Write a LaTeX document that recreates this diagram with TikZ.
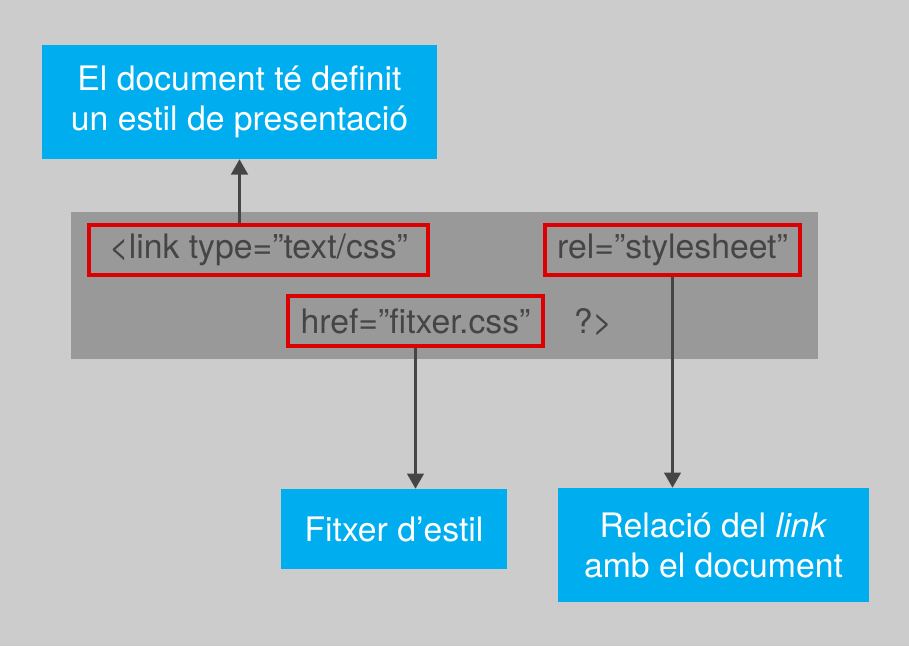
\documentclass[tikz,border=0pt]{standalone}
\usepackage{fontspec}
\setmainfont{TeX Gyre Heros}
\usetikzlibrary{arrows.meta,positioning,calc}
\definecolor{bgcol}{HTML}{CCCCCC}
\definecolor{barcol}{HTML}{999999}
\definecolor{skyblue}{HTML}{00AEEF}
\definecolor{markred}{HTML}{DD0000}
\definecolor{codegray}{HTML}{454545}
\begin{document}
\begin{tikzpicture}[x=0.025cm, y=-0.025cm,
  infobox/.style={fill=skyblue, text=white, align=center, inner sep=0pt,
    font=\fontsize{24}{28.5}\selectfont},
  codebox/.style={draw=markred, line width=2.8pt, text=codegray, inner sep=0pt,
    minimum height=1.25cm, font=\fontsize{24}{28}\selectfont},
  arrow/.style={-{Triangle[length=0.38cm, width=0.42cm]}, line width=1.5pt, draw=codegray}
]
\fill[bgcol] (0,0) rectangle (909,646);
\useasboundingbox (0,0) rectangle (909,646);
\node[fill=barcol, minimum width=18.675cm, minimum height=3.675cm, inner sep=0pt] (bar) at (444.5,285.5) {};
\node[infobox, minimum width=9.875cm, minimum height=2.85cm] (style) at (239.5,102)
  {El document té definit\\un estil de presentació};
\node[codebox, minimum width=8.475cm] (linktype) at (258.5,250) {<link type=”text/css”};
\node[codebox, minimum width=6.375cm] (rel) at (672.5,250) {rel=”stylesheet”};
\node[codebox, minimum width=6.375cm] (href) at (415.5,321) {href=”fitxer.css”};
\node[text=codegray, font=\fontsize{24}{28}\selectfont] (close) at (593,322) {?>};
\node[infobox, minimum width=5.65cm, minimum height=2cm] (file) at (394,529) {Fitxer d’estil};
\node[infobox, minimum width=7.775cm, minimum height=2.85cm] (relation) at (713.5,545)
  {Relació del \textit{link}\\amb el document};
\draw[arrow] (linktype.north -| style.south) -- (style.south);
\draw[arrow] (href.south) -- (href.south |- file.north);
\draw[arrow] (rel.south) -- (rel.south |- relation.north);
\end{tikzpicture}
\end{document}
